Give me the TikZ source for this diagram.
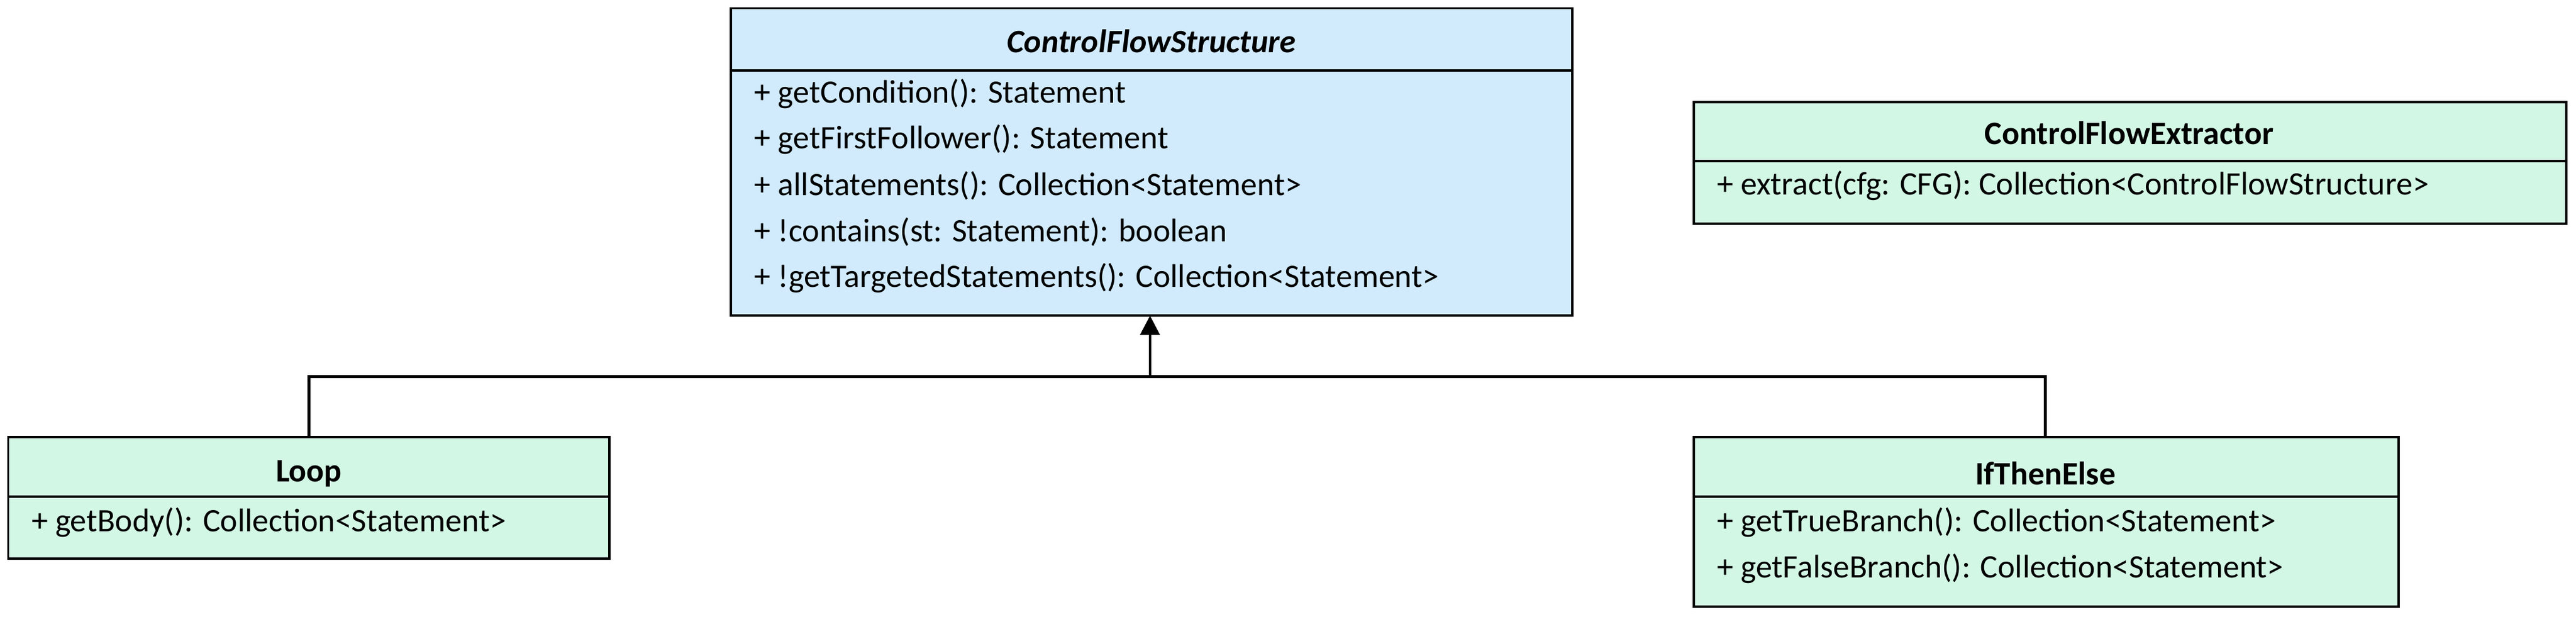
\documentclass[tikz,border=0pt]{standalone}
\usepackage{fontspec}
\setmainfont{Carlito}
\usetikzlibrary{arrows.meta}
\definecolor{bl}{HTML}{D1EBFD}
\definecolor{gr}{HTML}{D3F7E5}
\begin{document}
\begin{tikzpicture}[x=0.03cm,y=-0.03cm,
 box/.style={draw=black,line width=1.2pt},
 t/.style={anchor=west,inner sep=0pt,font=\fontsize{17}{20}\selectfont},
 h/.style={inner sep=0pt,font=\fontsize{17}{20}\selectfont\bfseries}]
\useasboundingbox (0,0) rectangle (1568,375);
% ControlFlowStructure
\draw[box,fill=bl] (445,5) rectangle (957,192);
\draw[box] (445,43) -- (957,43);
\node[h,font=\fontsize{17}{20}\selectfont\bfseries\itshape] (cfs) at (701,25) {ControlFlowStructure};
\node[t] (c1) at (459,57) {+ getCondition(): Statement};
\node[t] (c2) at (459,85) {+ getFirstFollower(): Statement};
\node[t] (c3) at (459,113) {+ allStatements(): Collection<Statement>};
\node[t] (c4) at (459,141) {+ !contains(st: Statement): boolean};
\node[t] (c5) at (459,169) {+ !getTargetedStatements(): Collection<Statement>};
\coordinate (cfsb) at (700,192);
% ControlFlowExtractor
\draw[box,fill=gr] (1031,62) rectangle (1562,136);
\draw[box] (1031,98) -- (1562,98);
\node[h] (cfe) at (1296,81) {ControlFlowExtractor};
\node[t] (e1) at (1045,113) {+ extract(cfg: CFG): Collection<ControlFlowStructure>};
% Loop
\draw[box,fill=gr] (5,266) rectangle (371,340);
\draw[box] (5,302) -- (371,302);
\node[h] (loop) at (188,288) {Loop};
\node[t] (l1) at (19,318) {+ getBody(): Collection<Statement>};
\coordinate (loopt) at (188,266);
% IfThenElse
\draw[box,fill=gr] (1031,266) rectangle (1460,369);
\draw[box] (1031,302) -- (1460,302);
\node[h] (ite) at (1245,288) {IfThenElse};
\node[t] (i1) at (1045,318) {+ getTrueBranch(): Collection<Statement>};
\node[t] (i2) at (1045,346) {+ getFalseBranch(): Collection<Statement>};
\coordinate (itet) at (1245,266);
% inheritance
\coordinate (j) at (700,229);
\draw[line width=1.5pt] (loopt) |- (j) -| (itet);
\draw[line width=1.5pt,-{Triangle[length=10pt,width=10pt]}] (j) -- (cfsb);
\end{tikzpicture}
\end{document}
